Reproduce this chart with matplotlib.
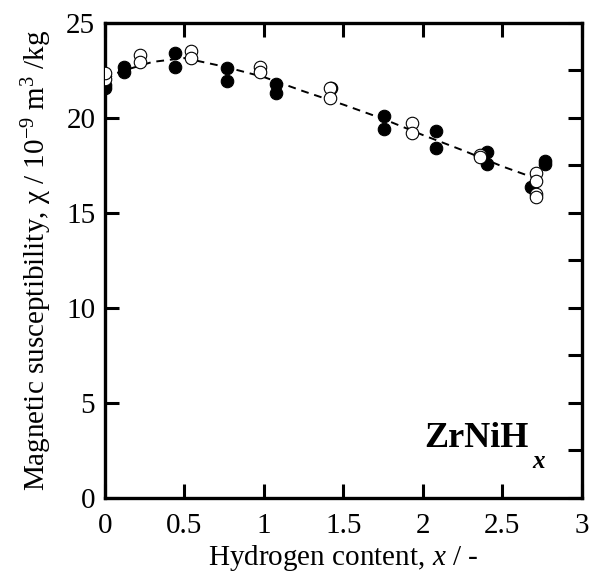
import matplotlib
matplotlib.use("Agg")
import matplotlib.pyplot as plt
from matplotlib.ticker import MultipleLocator

# ZrNiHx magnetic susceptibility data
x_filled = [0.0, 0.0, 0.12, 0.12, 0.44, 0.44, 0.77, 0.77, 1.075, 1.075, 1.42,
            1.757, 1.757, 2.08, 2.08, 2.405, 2.405, 2.68, 2.767, 2.767]
y_filled = [21.55, 21.75, 22.7, 22.44, 23.41, 22.67, 22.62, 21.96, 21.77, 21.33, 21.6,
            20.1, 19.4, 19.33, 18.4, 18.23, 17.6, 16.38, 17.75, 17.6]

x_open = [0.0, 0.0, 0.22, 0.22, 0.54, 0.54, 0.975, 0.975, 1.415, 1.415,
          1.93, 1.93, 2.36, 2.36, 2.715, 2.715, 2.71, 2.715]
y_open = [22.05, 22.38, 23.32, 22.96, 23.54, 23.14, 22.67, 22.44, 21.56, 21.04,
          19.72, 19.19, 18.05, 17.95, 17.09, 16.7, 16.0, 15.86]

# dashed guide curve
x_fit = [0.0, 0.1, 0.3, 0.5, 0.75, 1.0, 1.25, 1.5, 1.75, 2.0, 2.25, 2.5, 2.7]
y_fit = [22.05, 22.45, 22.95, 23.15, 22.7, 22.15, 21.4, 20.7, 19.95, 19.1, 18.3, 17.45, 16.85]

plt.rcParams['font.family'] = ['Liberation Serif', 'DejaVu Serif']
plt.rcParams['mathtext.fontset'] = 'custom'
plt.rcParams['mathtext.rm'] = 'Liberation Serif'
plt.rcParams['mathtext.it'] = 'Liberation Serif:italic'

fig = plt.figure(figsize=(5.9, 5.73), dpi=100)
ax = fig.add_axes([0.178, 0.131, 0.808, 0.829])

ax.plot(x_fit, y_fit, linestyle=(0, (4, 3)), color='black', linewidth=1.4, zorder=1)
ax.plot(x_filled, y_filled, 'o', markersize=9, markerfacecolor='black',
        markeredgecolor='black', markeredgewidth=0.8, zorder=2)
ax.plot(x_open, y_open, 'o', markersize=9, markerfacecolor='white',
        markeredgecolor='black', markeredgewidth=0.8, zorder=3)

ax.set_xlim(0, 3)
ax.set_ylim(0, 25)
ax.yaxis.set_major_locator(MultipleLocator(5))
ax.yaxis.set_minor_locator(MultipleLocator(2.5))
ax.set_xticks([0, 0.5, 1, 1.5, 2, 2.5, 3])
ax.set_xticklabels(['0', '0.5', '1', '1.5', '2', '2.5', '3'])

for s in ax.spines.values():
    s.set_linewidth(2.4)

ax.tick_params(which='major', direction='in', length=10, width=2.2,
               top=True, right=True, labelsize=21)
ax.tick_params(axis='x', which='major', pad=11)
ax.tick_params(axis='y', which='major', pad=7)
ax.tick_params(which='minor', direction='in', length=10, width=2.2,
               left=False, right=True, top=False, bottom=False)

ax.set_xlabel('Hydrogen content, $\\mathit{x}$ / -', fontsize=21, labelpad=3)
ax.set_ylabel('Magnetic susceptibility, \u03c7 / 10$^{\\mathrm{-9}}$ m$^{\\mathrm{3}}$ /kg',
              fontsize=21, labelpad=9)

ax.text(2.01, 2.66, 'ZrNiH', fontsize=26, fontweight='bold', ha='left', va='baseline')
ax.text(2.69, 1.6, 'x', fontsize=18, fontweight='bold', fontstyle='italic',
        ha='left', va='baseline')

fig.savefig('out.png', dpi=100)
